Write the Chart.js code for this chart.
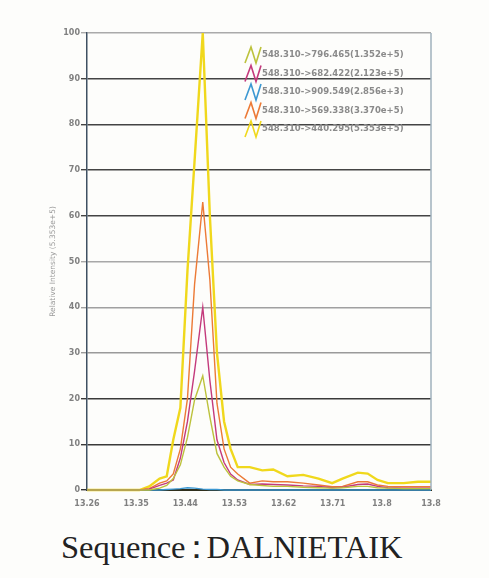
<!DOCTYPE html>
<html>
  <head>
    <title>Sequence DALNIETAIK</title>
    <meta charset="utf-8" />
    <style>
      body { margin: 0; background: #fdfdfb; }
      #wrap { position: relative; width: 489px; height: 578px; overflow: hidden; }
      #xic { position: absolute; left: 0; top: 0; }
      #seq {
        position: absolute; left: 61px; top: 531px;
        font-family: "Liberation Serif", serif; font-size: 32.5px; color: #222;
        white-space: nowrap; line-height: 32px;
      }
      #seq span { margin: 0 -6px; }
    </style>
  </head>

  <body>
    <div id="wrap">
      <canvas id="xic" width="489" height="510"></canvas>
      <div id="seq">Sequence<span>：</span>DALNIETAIK</div>
    </div>
    <script src="https://cdn.jsdelivr.net/npm/chart.js@4.4.0/dist/chart.umd.min.js"></script>
    <script>
      // retention time (min)
      const rt = [13.26, 13.356, 13.374, 13.393, 13.406, 13.418, 13.431, 13.444, 13.457, 13.472,
                  13.485, 13.498, 13.511, 13.523, 13.536, 13.558, 13.581, 13.601, 13.627, 13.656,
                  13.684, 13.709, 13.728, 13.756, 13.774, 13.792, 13.811, 13.84, 13.866, 13.89];

      // relative intensity (%) per transition
      const t796 = [0, 0, 0, 0.4, 1, 2.5, 5.5, 11.5, 19.7, 25, 16, 8, 5, 3, 2, 1.2, 1, 0.8, 0.8, 0.6,
                    0.5, 0.4, 0.5, 0.8, 0.8, 0.5, 0.4, 0.3, 0.3, 0.3];
      const t682 = [0, 0, 0.2, 1, 1.5, 2.2, 7, 15, 26, 40, 24, 11, 6, 3.5, 2.2, 1.2, 1.3, 1.2, 1.1, 0.9,
                    0.8, 0.5, 0.6, 1.2, 1.3, 0.8, 0.5, 0.4, 0.4, 0.4];
      const t909 = [0, 0, 0, 0, 0.1, 0.2, 0.3, 0.5, 0.4, 0.2, 0.1, 0.1, 0, 0, 0, 0, 0, 0, 0, 0,
                    0, 0, 0, 0, 0, 0, 0, 0, 0, 0];
      const t569 = [0, 0, 0.3, 1.5, 2, 3.5, 9, 20, 45, 63, 46, 19, 9, 5, 3.5, 1.5, 2, 1.8, 1.8, 1.5,
                    1.1, 0.7, 0.8, 1.8, 1.8, 1.1, 0.8, 0.7, 0.7, 0.7];
      const t440 = [0, 0, 0.8, 2.5, 3, 11, 18, 48, 72, 100, 60, 30, 15, 9, 5, 5, 4.3, 4.5, 3, 3.3,
                    2.5, 1.5, 2.5, 3.8, 3.6, 2.2, 1.5, 1.5, 1.8, 1.8];

      const seriesNames = [
        "548.310->796.465(1.352e+5)",
        "548.310->682.422(2.123e+5)",
        "548.310->909.549(2.856e+3)",
        "548.310->569.338(3.370e+5)",
        "548.310->440.295(5.353e+5)"
      ];
      const seriesColors = ["#bcc23c", "#c43a7c", "#3c98d2", "#ec7a36", "#f0d81c"];
      const xTickLabels = ["13.26", "13.35", "13.44", "13.53", "13.62", "13.71", "13.8", "13.8"];

      const pts = arr => arr.map((v, i) => ({ x: rt[i], y: v }));
      const allSeries = [t796, t682, t909, t569, t440];

      // legend drawn inside plot, with the little "N" marks
      const innerLegend = {
        id: "innerLegend",
        afterDatasetsDraw(chart) {
          const ctx = chart.ctx;
          const area = chart.chartArea;
          ctx.save();
          // right frame edge
          ctx.strokeStyle = "#9fb0bc";
          ctx.lineWidth = 1.5;
          ctx.beginPath();
          ctx.moveTo(area.right, area.top);
          ctx.lineTo(area.right, area.bottom);
          ctx.stroke();
          chart.data.datasets.forEach((ds, i) => {
            const x = 245, y = 55 + i * 18.5;
            ctx.strokeStyle = ds.borderColor;
            ctx.lineWidth = 1.6;
            ctx.beginPath();
            ctx.moveTo(x, y + 8);
            ctx.lineTo(x + 6, y - 8);
            ctx.lineTo(x + 11, y + 8);
            ctx.lineTo(x + 16, y - 8);
            ctx.stroke();
            ctx.fillStyle = "#8a8a8a";
            ctx.font = "bold 8.5px 'DejaVu Sans'";
            ctx.textBaseline = "middle";
            ctx.fillText(ds.label, x + 17, y);
          });
          ctx.restore();
        }
      };

      const gridColors = { 0: "#333", 10: "#3a3a3a", 20: "#3a3a3a", 30: "#9a9a9a", 40: "#a0a0a0",
                           50: "#a8a8a8", 60: "#444", 70: "#444", 80: "#444", 90: "#444", 100: "#aaa" };

      new Chart(document.getElementById("xic"), {
        type: "line",
        data: {
          datasets: allSeries.map((s, i) => ({
            label: seriesNames[i],
            data: pts(s),
            borderColor: seriesColors[i],
            borderWidth: i === 4 ? 2.4 : 1.4,
            pointRadius: 0,
            tension: 0,
            fill: false,
            clip: 3
          }))
        },
        options: {
          responsive: false,
          animation: false,
          layout: { padding: { left: 45, top: 33, right: 58, bottom: 0 } },
          plugins: { legend: { display: false }, tooltip: { enabled: false } },
          scales: {
            x: {
              type: "linear",
              min: 13.26,
              max: 13.89,
              afterFit(s) { s.height = 20; },
              grid: { display: false },
              border: { display: true, color: "#2f2f1c", width: 2 },
              ticks: {
                stepSize: 0.09,
                maxRotation: 0,
                padding: 1,
                color: "#808080",
                font: { family: "DejaVu Sans", size: 8, weight: "bold" },
                callback: (v, i) => xTickLabels[i]
              }
            },
            y: {
              min: 0,
              max: 100,
              afterFit(s) { s.width = 42; },
              border: { display: true, color: "#3f5062", width: 1.5 },
              grid: {
                color: c => gridColors[c.tick ? c.tick.value : 0] || "#555",
                lineWidth: 1.4,
                tickLength: 6
              },
              ticks: {
                stepSize: 10,
                padding: 1,
                color: "#808080",
                font: { family: "DejaVu Sans", size: 8, weight: "bold" }
              },
              title: {
                display: true,
                text: "Relative Intensity (5.353e+5)",
                color: "#9a9a9a",
                padding: { top: 4, bottom: 0 },
                font: { family: "DejaVu Sans", size: 7.5 }
              }
            }
          }
        },
        plugins: [innerLegend]
      });
    </script>
  </body>
</html>
